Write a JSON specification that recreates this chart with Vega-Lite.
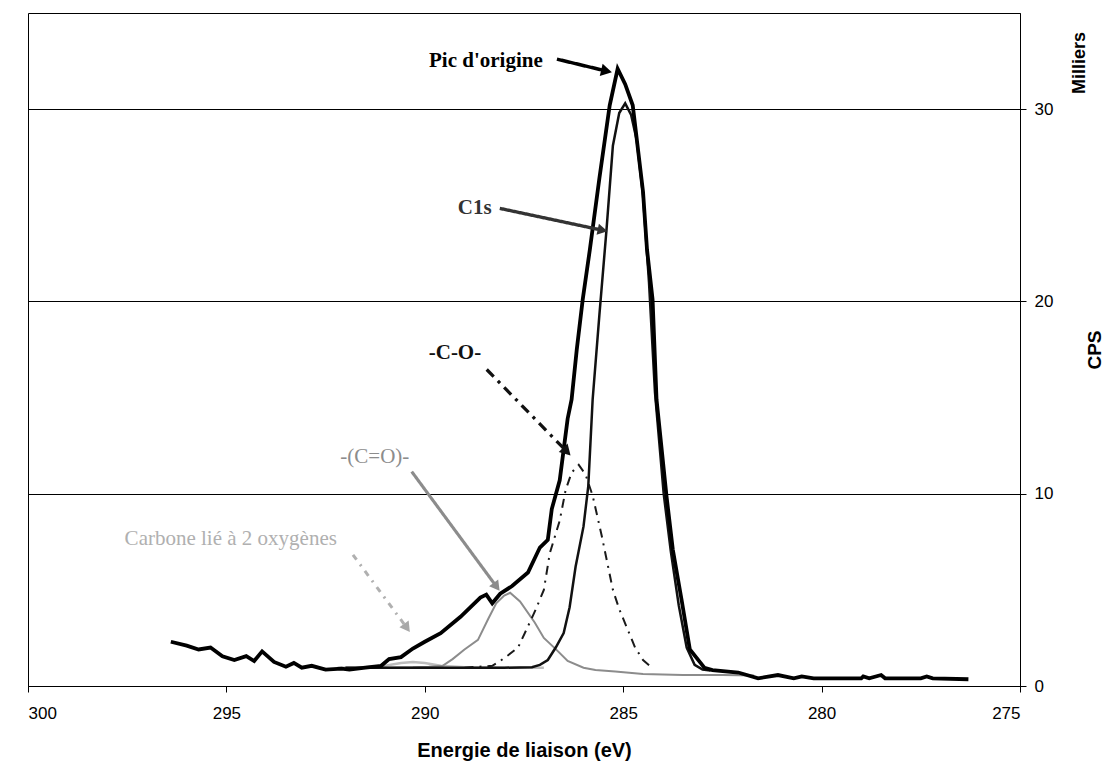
{
  "$schema": "https://vega.github.io/schema/vega-lite/v6.json",
  "autosize": "none",
  "width": 992,
  "height": 673,
  "padding": {"left": 28, "top": 13, "right": 97, "bottom": 83},
  "background": "white",
  "config": {
    "view": {"stroke": "black", "strokeWidth": 1},
    "axis": {"labelFont": "Liberation Sans", "titleFont": "Liberation Sans", "labelColor": "black", "titleColor": "black", "domainColor": "black", "tickColor": "black"}
  },
  "datasets": {
    "spectre": [
      {"serie": "orig", "energie": 296.4, "cps": 2.3},
      {"serie": "orig", "energie": 296.0, "cps": 2.1},
      {"serie": "orig", "energie": 295.7, "cps": 1.9},
      {"serie": "orig", "energie": 295.4, "cps": 2.0},
      {"serie": "orig", "energie": 295.1, "cps": 1.55},
      {"serie": "orig", "energie": 294.8, "cps": 1.35},
      {"serie": "orig", "energie": 294.5, "cps": 1.55},
      {"serie": "orig", "energie": 294.3, "cps": 1.3},
      {"serie": "orig", "energie": 294.1, "cps": 1.8},
      {"serie": "orig", "energie": 293.8, "cps": 1.25},
      {"serie": "orig", "energie": 293.5, "cps": 1.0},
      {"serie": "orig", "energie": 293.3, "cps": 1.2},
      {"serie": "orig", "energie": 293.1, "cps": 0.95},
      {"serie": "orig", "energie": 292.85, "cps": 1.05},
      {"serie": "orig", "energie": 292.5, "cps": 0.85},
      {"serie": "orig", "energie": 292.1, "cps": 0.9},
      {"serie": "orig", "energie": 291.9, "cps": 0.85},
      {"serie": "orig", "energie": 291.5, "cps": 0.95},
      {"serie": "orig", "energie": 291.1, "cps": 1.05},
      {"serie": "orig", "energie": 290.9, "cps": 1.4},
      {"serie": "orig", "energie": 290.6, "cps": 1.5},
      {"serie": "orig", "energie": 290.3, "cps": 1.95},
      {"serie": "orig", "energie": 290.0, "cps": 2.3},
      {"serie": "orig", "energie": 289.6, "cps": 2.75},
      {"serie": "orig", "energie": 289.1, "cps": 3.6},
      {"serie": "orig", "energie": 288.6, "cps": 4.6},
      {"serie": "orig", "energie": 288.45, "cps": 4.75},
      {"serie": "orig", "energie": 288.3, "cps": 4.3},
      {"serie": "orig", "energie": 288.1, "cps": 4.8},
      {"serie": "orig", "energie": 287.8, "cps": 5.2},
      {"serie": "orig", "energie": 287.4, "cps": 5.9},
      {"serie": "orig", "energie": 287.1, "cps": 7.2},
      {"serie": "orig", "energie": 286.9, "cps": 7.6},
      {"serie": "orig", "energie": 286.8, "cps": 9.2},
      {"serie": "orig", "energie": 286.6, "cps": 10.7},
      {"serie": "orig", "energie": 286.5, "cps": 12.3},
      {"serie": "orig", "energie": 286.4, "cps": 13.9},
      {"serie": "orig", "energie": 286.3, "cps": 14.9},
      {"serie": "orig", "energie": 286.17, "cps": 17.5},
      {"serie": "orig", "energie": 286.02, "cps": 20.1},
      {"serie": "orig", "energie": 285.84, "cps": 22.7},
      {"serie": "orig", "energie": 285.6, "cps": 26.4},
      {"serie": "orig", "energie": 285.34, "cps": 30.2},
      {"serie": "orig", "energie": 285.14, "cps": 32.1},
      {"serie": "orig", "energie": 284.95, "cps": 31.3},
      {"serie": "orig", "energie": 284.76, "cps": 30.2},
      {"serie": "orig", "energie": 284.5, "cps": 25.7},
      {"serie": "orig", "energie": 284.4, "cps": 22.7},
      {"serie": "orig", "energie": 284.26, "cps": 20.1},
      {"serie": "orig", "energie": 284.16, "cps": 14.9},
      {"serie": "orig", "energie": 283.91, "cps": 9.9},
      {"serie": "orig", "energie": 283.75, "cps": 7.1},
      {"serie": "orig", "energie": 283.53, "cps": 4.5},
      {"serie": "orig", "energie": 283.32, "cps": 1.9},
      {"serie": "orig", "energie": 282.95, "cps": 0.94},
      {"serie": "orig", "energie": 282.75, "cps": 0.83},
      {"serie": "orig", "energie": 282.1, "cps": 0.7},
      {"serie": "orig", "energie": 281.6, "cps": 0.4},
      {"serie": "orig", "energie": 281.1, "cps": 0.57},
      {"serie": "orig", "energie": 280.7, "cps": 0.4},
      {"serie": "orig", "energie": 280.5, "cps": 0.5},
      {"serie": "orig", "energie": 280.2, "cps": 0.4},
      {"serie": "orig", "energie": 279.0, "cps": 0.4},
      {"serie": "orig", "energie": 278.95, "cps": 0.5},
      {"serie": "orig", "energie": 278.8, "cps": 0.4},
      {"serie": "orig", "energie": 278.5, "cps": 0.57},
      {"serie": "orig", "energie": 278.4, "cps": 0.4},
      {"serie": "orig", "energie": 277.5, "cps": 0.4},
      {"serie": "orig", "energie": 277.35, "cps": 0.5},
      {"serie": "orig", "energie": 277.2, "cps": 0.4},
      {"serie": "orig", "energie": 276.3, "cps": 0.35},

      {"serie": "c1s", "energie": 292.0, "cps": 0.95},
      {"serie": "c1s", "energie": 290.0, "cps": 0.95},
      {"serie": "c1s", "energie": 288.0, "cps": 0.95},
      {"serie": "c1s", "energie": 287.3, "cps": 0.98},
      {"serie": "c1s", "energie": 287.1, "cps": 1.1},
      {"serie": "c1s", "energie": 286.9, "cps": 1.35},
      {"serie": "c1s", "energie": 286.7, "cps": 2.0},
      {"serie": "c1s", "energie": 286.5, "cps": 2.75},
      {"serie": "c1s", "energie": 286.35, "cps": 4.1},
      {"serie": "c1s", "energie": 286.2, "cps": 6.2},
      {"serie": "c1s", "energie": 286.0, "cps": 8.3},
      {"serie": "c1s", "energie": 285.88, "cps": 10.4},
      {"serie": "c1s", "energie": 285.77, "cps": 14.9},
      {"serie": "c1s", "energie": 285.6, "cps": 19.3},
      {"serie": "c1s", "energie": 285.42, "cps": 23.75},
      {"serie": "c1s", "energie": 285.26, "cps": 28.1},
      {"serie": "c1s", "energie": 285.1, "cps": 29.8},
      {"serie": "c1s", "energie": 284.95, "cps": 30.3},
      {"serie": "c1s", "energie": 284.8, "cps": 29.7},
      {"serie": "c1s", "energie": 284.66, "cps": 28.4},
      {"serie": "c1s", "energie": 284.5, "cps": 25.5},
      {"serie": "c1s", "energie": 284.35, "cps": 21.0},
      {"serie": "c1s", "energie": 284.2, "cps": 15.3},
      {"serie": "c1s", "energie": 283.98, "cps": 10.0},
      {"serie": "c1s", "energie": 283.8, "cps": 7.0},
      {"serie": "c1s", "energie": 283.6, "cps": 4.2},
      {"serie": "c1s", "energie": 283.4, "cps": 2.0},
      {"serie": "c1s", "energie": 283.2, "cps": 1.1},
      {"serie": "c1s", "energie": 283.0, "cps": 0.85},
      {"serie": "c1s", "energie": 282.8, "cps": 0.8},

      {"serie": "co", "energie": 289.0, "cps": 0.95},
      {"serie": "co", "energie": 288.3, "cps": 1.05},
      {"serie": "co", "energie": 288.1, "cps": 1.3},
      {"serie": "co", "energie": 287.9, "cps": 1.6},
      {"serie": "co", "energie": 287.65, "cps": 2.0},
      {"serie": "co", "energie": 287.4, "cps": 3.1},
      {"serie": "co", "energie": 287.2, "cps": 4.0},
      {"serie": "co", "energie": 287.0, "cps": 5.0},
      {"serie": "co", "energie": 286.85, "cps": 6.9},
      {"serie": "co", "energie": 286.6, "cps": 8.6},
      {"serie": "co", "energie": 286.45, "cps": 10.2},
      {"serie": "co", "energie": 286.3, "cps": 11.1},
      {"serie": "co", "energie": 286.12, "cps": 11.5},
      {"serie": "co", "energie": 285.95, "cps": 11.0},
      {"serie": "co", "energie": 285.77, "cps": 9.9},
      {"serie": "co", "energie": 285.54, "cps": 7.8},
      {"serie": "co", "energie": 285.26, "cps": 5.0},
      {"serie": "co", "energie": 285.1, "cps": 4.0},
      {"serie": "co", "energie": 284.9, "cps": 3.0},
      {"serie": "co", "energie": 284.7, "cps": 2.0},
      {"serie": "co", "energie": 284.5, "cps": 1.35},
      {"serie": "co", "energie": 284.3, "cps": 1.0},

      {"serie": "ceo", "energie": 292.0, "cps": 0.95},
      {"serie": "ceo", "energie": 291.0, "cps": 0.95},
      {"serie": "ceo", "energie": 290.3, "cps": 0.97},
      {"serie": "ceo", "energie": 289.9, "cps": 1.0},
      {"serie": "ceo", "energie": 289.55, "cps": 1.05},
      {"serie": "ceo", "energie": 289.3, "cps": 1.4},
      {"serie": "ceo", "energie": 289.0, "cps": 1.9},
      {"serie": "ceo", "energie": 288.66, "cps": 2.4},
      {"serie": "ceo", "energie": 288.4, "cps": 3.5},
      {"serie": "ceo", "energie": 288.2, "cps": 4.3},
      {"serie": "ceo", "energie": 288.0, "cps": 4.7},
      {"serie": "ceo", "energie": 287.85, "cps": 4.85},
      {"serie": "ceo", "energie": 287.6, "cps": 4.4},
      {"serie": "ceo", "energie": 287.23, "cps": 3.3},
      {"serie": "ceo", "energie": 287.0, "cps": 2.5},
      {"serie": "ceo", "energie": 286.68, "cps": 1.88},
      {"serie": "ceo", "energie": 286.4, "cps": 1.3},
      {"serie": "ceo", "energie": 286.0, "cps": 0.95},
      {"serie": "ceo", "energie": 285.7, "cps": 0.83},
      {"serie": "ceo", "energie": 285.2, "cps": 0.75},
      {"serie": "ceo", "energie": 284.5, "cps": 0.62},
      {"serie": "ceo", "energie": 283.5, "cps": 0.57},
      {"serie": "ceo", "energie": 282.5, "cps": 0.57},
      {"serie": "ceo", "energie": 281.7, "cps": 0.55},

      {"serie": "c2o", "energie": 292.2, "cps": 0.95},
      {"serie": "c2o", "energie": 291.5, "cps": 0.97},
      {"serie": "c2o", "energie": 291.0, "cps": 1.05},
      {"serie": "c2o", "energie": 290.6, "cps": 1.2},
      {"serie": "c2o", "energie": 290.3, "cps": 1.25},
      {"serie": "c2o", "energie": 290.0, "cps": 1.2},
      {"serie": "c2o", "energie": 289.6, "cps": 1.05},
      {"serie": "c2o", "energie": 289.0, "cps": 0.97},
      {"serie": "c2o", "energie": 288.0, "cps": 0.95},
      {"serie": "c2o", "energie": 287.0, "cps": 0.95}
    ],
    "notes": [
      {"ann": "orig", "label": "Pic d'origine", "tx": 288.46, "ty": 32.19, "ax1": 286.67, "ay1": 32.6, "ax2": 285.42, "ay2": 31.98},
      {"ann": "c1s", "label": "C1s", "tx": 288.74, "ty": 24.53, "ax1": 288.11, "ay1": 24.84, "ax2": 285.52, "ay2": 23.7},
      {"ann": "co", "label": "-C-O-", "tx": 289.24, "ty": 16.98, "ax1": 288.44, "ay1": 16.46, "ax2": 286.42, "ay2": 12.19},
      {"ann": "ceo", "label": "-(C=O)-", "tx": 291.26, "ty": 11.61, "ax1": 290.33, "ay1": 11.15, "ax2": 288.19, "ay2": 5.16},
      {"ann": "c2o", "label": "Carbone lié à 2 oxygènes", "tx": 294.89, "ty": 7.34, "ax1": 291.81, "ay1": 6.82, "ax2": 290.45, "ay2": 3.02},
      {"ann": "unit", "label": "Milliers", "tx": 273.5, "ty": 32.4}
    ]
  },
  "layer": [
    {
      "data": {"name": "spectre"},
      "transform": [{"filter": "datum.serie === 'c2o'"}],
      "mark": {"type": "line", "color": "#bdbdbd", "strokeWidth": 2.5},
      "encoding": {
        "x": {"field": "energie", "type": "quantitative", "scale": {"domain": [275, 300], "reverse": true, "nice": false},
          "axis": {"values": [300, 295, 290, 285, 280, 275], "grid": false, "tickSize": 6, "labelFontSize": 17, "labelPadding": 13,
            "title": "Energie de liaison (eV)", "titleFontSize": 20, "titleFontWeight": "bold", "titlePadding": 19}},
        "y": {"field": "cps", "type": "quantitative", "scale": {"domain": [0, 35], "nice": false},
          "axis": {"orient": "right", "values": [0, 10, 20, 30], "grid": true, "gridColor": "black", "gridOpacity": 1, "gridWidth": 1,
            "tickSize": 6, "labelFontSize": 17, "labelPadding": 8, "title": "CPS", "titleFontSize": 19, "titleFontWeight": "bold",
            "titleAngle": 270, "titlePadding": 52}}
      }
    },
    {
      "data": {"name": "spectre"},
      "transform": [{"filter": "datum.serie === 'ceo'"}],
      "mark": {"type": "line", "color": "#8c8c8c", "strokeWidth": 2},
      "encoding": {"x": {"field": "energie", "type": "quantitative"}, "y": {"field": "cps", "type": "quantitative"}}
    },
    {
      "data": {"name": "spectre"},
      "transform": [{"filter": "datum.serie === 'co'"}],
      "mark": {"type": "line", "color": "#1a1a1a", "strokeWidth": 2, "strokeDash": [9, 6, 2, 6]},
      "encoding": {"x": {"field": "energie", "type": "quantitative"}, "y": {"field": "cps", "type": "quantitative"}}
    },
    {
      "data": {"name": "spectre"},
      "transform": [{"filter": "datum.serie === 'c1s'"}],
      "mark": {"type": "line", "color": "#111111", "strokeWidth": 2.5},
      "encoding": {"x": {"field": "energie", "type": "quantitative"}, "y": {"field": "cps", "type": "quantitative"}}
    },
    {
      "data": {"name": "spectre"},
      "transform": [{"filter": "datum.serie === 'orig'"}],
      "mark": {"type": "line", "color": "black", "strokeWidth": 3.8},
      "encoding": {"x": {"field": "energie", "type": "quantitative"}, "y": {"field": "cps", "type": "quantitative"}}
    },
    {
      "data": {"name": "notes"},
      "transform": [{"filter": "datum.ax1 != null"}],
      "mark": {"type": "rule"},
      "encoding": {
        "x": {"field": "ax1", "type": "quantitative"},
        "y": {"field": "ay1", "type": "quantitative"},
        "x2": {"field": "ax2"},
        "y2": {"field": "ay2"},
        "color": {"field": "ann", "type": "nominal", "scale": {"domain": ["orig", "c1s", "co", "ceo", "c2o"], "range": ["#000000", "#333333", "#111111", "#8c8c8c", "#b0b0b0"]}, "legend": null},
        "strokeDash": {"field": "ann", "type": "nominal", "scale": {"domain": ["orig", "c1s", "co", "ceo", "c2o"], "range": [[1, 0], [1, 0], [10, 6, 3, 6], [1, 0], [6, 6, 2, 6]]}, "legend": null},
        "strokeWidth": {"field": "ann", "type": "nominal", "scale": {"domain": ["orig", "c1s", "co", "ceo", "c2o"], "range": [3.5, 3, 3, 2, 2.5]}, "legend": null}
      }
    },
    {
      "data": {"name": "notes"},
      "transform": [{"filter": "datum.ann === 'orig'"}],
      "mark": {"type": "point", "shape": "triangle-up", "filled": true, "size": 160, "angle": 103, "color": "black", "opacity": 1},
      "encoding": {"x": {"field": "ax2", "type": "quantitative"}, "y": {"field": "ay2", "type": "quantitative"}}
    },
    {
      "data": {"name": "notes"},
      "transform": [{"filter": "datum.ann === 'c1s'"}],
      "mark": {"type": "point", "shape": "triangle-up", "filled": true, "size": 130, "angle": 102, "color": "#333333", "opacity": 1},
      "encoding": {"x": {"field": "ax2", "type": "quantitative"}, "y": {"field": "ay2", "type": "quantitative"}}
    },
    {
      "data": {"name": "notes"},
      "transform": [{"filter": "datum.ann === 'co'"}],
      "mark": {"type": "point", "shape": "triangle-up", "filled": true, "size": 150, "angle": 136, "color": "#111111", "opacity": 1},
      "encoding": {"x": {"field": "ax2", "type": "quantitative"}, "y": {"field": "ay2", "type": "quantitative"}}
    },
    {
      "data": {"name": "notes"},
      "transform": [{"filter": "datum.ann === 'ceo'"}],
      "mark": {"type": "point", "shape": "triangle-up", "filled": true, "size": 130, "angle": 143, "color": "#8c8c8c", "opacity": 1},
      "encoding": {"x": {"field": "ax2", "type": "quantitative"}, "y": {"field": "ay2", "type": "quantitative"}}
    },
    {
      "data": {"name": "notes"},
      "transform": [{"filter": "datum.ann === 'c2o'"}],
      "mark": {"type": "point", "shape": "triangle-up", "filled": true, "size": 130, "angle": 144, "color": "#a8a8a8", "opacity": 1},
      "encoding": {"x": {"field": "ax2", "type": "quantitative"}, "y": {"field": "ay2", "type": "quantitative"}}
    },
    {
      "data": {"name": "notes"},
      "transform": [{"filter": "datum.ann === 'orig' || datum.ann === 'c1s' || datum.ann === 'co'"}],
      "mark": {"type": "text", "font": "Liberation Serif", "fontSize": 21, "fontWeight": "bold", "baseline": "alphabetic", "align": "center"},
      "encoding": {
        "x": {"field": "tx", "type": "quantitative"},
        "y": {"field": "ty", "type": "quantitative"},
        "text": {"field": "label"},
        "color": {"field": "ann", "type": "nominal", "scale": {"domain": ["orig", "c1s", "co", "ceo", "c2o", "unit"], "range": ["#000000", "#222222", "#111111", "#999999", "#b0b0b0", "#000000"]}, "legend": null}
      }
    },
    {
      "data": {"name": "notes"},
      "transform": [{"filter": "datum.ann === 'ceo' || datum.ann === 'c2o'"}],
      "mark": {"type": "text", "font": "Liberation Serif", "fontSize": 21, "baseline": "alphabetic", "align": "center"},
      "encoding": {
        "x": {"field": "tx", "type": "quantitative"},
        "y": {"field": "ty", "type": "quantitative"},
        "text": {"field": "label"},
        "color": {"field": "ann", "type": "nominal", "scale": {"domain": ["orig", "c1s", "co", "ceo", "c2o", "unit"], "range": ["#000000", "#222222", "#111111", "#999999", "#b0b0b0", "#000000"]}, "legend": null}
      }
    },
    {
      "data": {"name": "notes"},
      "transform": [{"filter": "datum.ann === 'unit'"}],
      "mark": {"type": "text", "font": "Liberation Sans", "fontSize": 18, "fontWeight": "bold", "angle": 270, "baseline": "middle", "align": "center", "color": "black"},
      "encoding": {
        "x": {"field": "tx", "type": "quantitative"},
        "y": {"field": "ty", "type": "quantitative"},
        "text": {"field": "label"}
      }
    }
  ]
}
